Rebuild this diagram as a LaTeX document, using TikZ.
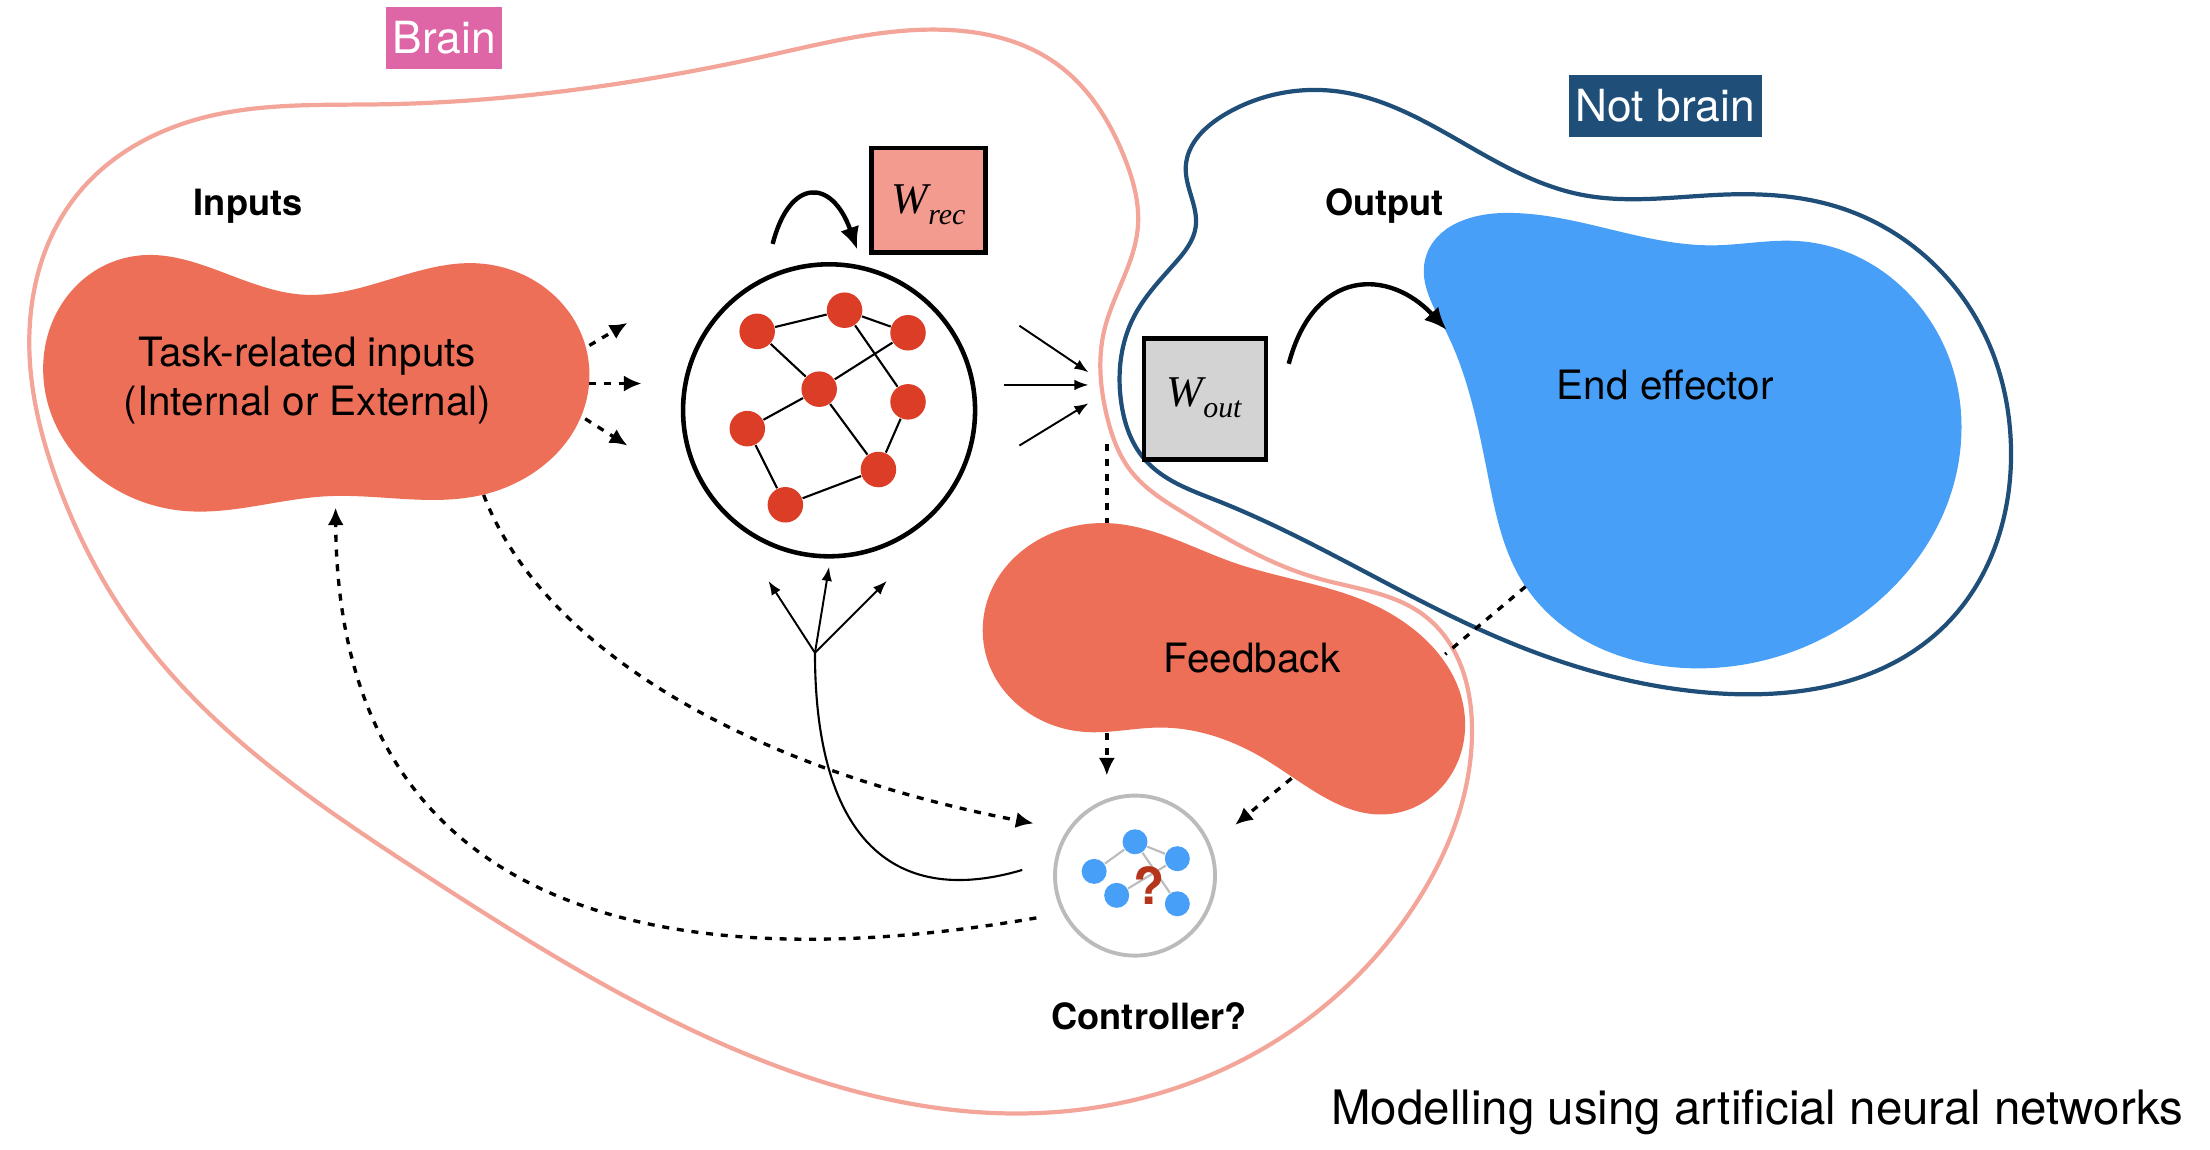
\documentclass[tikz,border=0pt]{standalone}
\usepackage{fontspec}
\setmainfont{TeX Gyre Heros}
\newfontfamily\wfont{Liberation Serif}
\usetikzlibrary{arrows.meta,hobby}
\definecolor{blobred}{HTML}{EE6F57}
\definecolor{blobblue}{HTML}{479FF8}
\definecolor{brainline}{HTML}{F4A59A}
\definecolor{notbrainline}{HTML}{1F4E79}
\definecolor{brainlabel}{HTML}{DF66A6}
\definecolor{wrecfill}{HTML}{F49B90}
\definecolor{woutfill}{HTML}{D3D3D3}
\definecolor{dotred}{HTML}{DC3D26}
\definecolor{qmark}{HTML}{B5341C}
\definecolor{ctrlgray}{HTML}{BBBBBB}
\newcommand{\wlabel}[2]{{\wfont\itshape\fontsize{12.5}{13}\selectfont #1\raisebox{-3.2pt}{\fontsize{8.5}{9}\selectfont #2}}}
\tikzset{
	bodytext/.style={font=\fontsize{11.5}{14}\selectfont,align=center,inner sep=0pt},
	boldtext/.style={font=\fontsize{10.3}{12}\selectfont\bfseries,inner sep=0pt},
	tagbox/.style={font=\fontsize{12.6}{14}\selectfont,text=white,minimum height=0.62cm,inner sep=0pt},
	weightbox/.style={draw=black,line width=1.3pt,inner sep=0pt},
	weighttext/.style={inner sep=0pt},
	netdot/.style={circle,fill=dotred,minimum size=0.355cm,inner sep=0pt},
	ctrldot/.style={circle,fill=blobblue,minimum size=0.25cm,inner sep=0pt},
	ctrledge/.style={ctrlgray,line width=0.6pt},
	netedge/.style={black,line width=0.6pt},
	thinarrow/.style={-{Latex[length=4pt,width=3pt]},line width=0.55pt},
	dasharrow/.style={-{Latex[length=5pt,width=4.6pt]},line width=0.95pt,dash pattern=on 2pt off 2.2pt},
	dashline/.style={line width=0.95pt,dash pattern=on 2pt off 2.2pt},
	curvearrow/.style={-{Latex[length=6.4pt,width=5.6pt]},line width=1.25pt}
}
\begin{document}
\begin{tikzpicture}[x=0.0141cm,y=-0.0141cm]
	\useasboundingbox (0,0) rectangle (1567.4,815.6);
	% outlines
	\draw [brainline,line width=1.2pt] plot [closed hobby] coordinates{(21,253) (54,139) (142,84) (270,74) (420,62) (542,40) (665,21) (749,45) (798,113) (807,161) (783,235) (785,295) (802,334) (840,364) (934,410) (1012,438) (1044,520) (1004,641) (910,735) (780,785) (697,789) (498,734) (299,619) (100,452) (40,340)};
	\draw [notbrainline,line width=1.2pt] plot [closed hobby] coordinates{(950,65) (1060,114) (1121,138) (1223,138) (1304,147) (1406,234) (1426,311) (1377,446) (1223,492) (1062,452) (863,355) (812,326) (795,284) (804,225) (833,187) (848,161) (841,118) (869,81)};
	% blobs
	\fill [blobred] plot [closed hobby] coordinates{(93,182) (215,209) (342,187) (418,263) (342,351) (231,352) (127,362) (31,253)};
	\fill [blobred] plot [closed hobby] coordinates{(785,371) (875,399) (970,427) (1039,518) (988,577) (898,539) (822,516) (768,519) (697,449)};
	\fill [blobblue] plot [closed hobby] coordinates{(1068,151) (1215,174) (1276,171) (1373,234) (1391,296) (1284,457) (1202,474) (1080,413) (1056,341) (1025,234) (1011,183)};
	% labels
	\node [tagbox,fill=brainlabel,minimum width=1.16cm] (brain) at (315,27) {Brain};
	\node [tagbox,fill=notbrainline,minimum width=1.93cm] (notbrain) at (1181,75) {Not brain};
	\node [boldtext] (inputs) at (176,146) {Inputs};
	\node [boldtext] (output) at (982,146) {Output};
	\node [boldtext] (controllerlabel) at (815,721) {Controller?};
	\node [bodytext] (task) at (218,270) {Task-related inputs\\(Internal or External)};
	\node [bodytext] (feedback) at (888,467) {Feedback};
	\node [bodytext] (effector) at (1181,273) {End effector};
	\node [bodytext,anchor=east,font=\fontsize{13.5}{16}\selectfont] (title) at (1549,789) {Modelling using artificial neural networks};
	% weight boxes
	\node [weightbox,fill=wrecfill,minimum width=1.135cm,minimum height=1.045cm] (wrec) at (658.5,142) {};
	\node [weighttext] (wreclabel) at (658.5,145) {\wlabel{W}{rec}};
	\node [weightbox,fill=woutfill,minimum width=1.22cm,minimum height=1.21cm] (wout) at (854.5,283) {};
	\node [weighttext] (woutlabel) at (854,282) {\wlabel{W}{out}};
	% network
	\node [circle,draw=black,line width=1.3pt,minimum size=2.92cm,inner sep=0pt] (net) at (588,291) {};
	\node [netdot] (n1) at (537,235) {};
	\node [netdot] (n2) at (599,220) {};
	\node [netdot] (n3) at (644,236) {};
	\node [netdot] (n4) at (581,276) {};
	\node [netdot] (n5) at (644,285) {};
	\node [netdot] (n6) at (530,304) {};
	\node [netdot] (n7) at (623,333) {};
	\node [netdot] (n8) at (557,358) {};
	\draw [netedge] (n1) -- (n2);
	\draw [netedge] (n2) -- (n3);
	\draw [netedge] (n1) -- (n4);
	\draw [netedge] (n2) -- (n5);
	\draw [netedge] (n3) -- (n4);
	\draw [netedge] (n4) -- (n6);
	\draw [netedge] (n4) -- (n7);
	\draw [netedge] (n5) -- (n7);
	\draw [netedge] (n6) -- (n8);
	\draw [netedge] (n8) -- (n7);
	% controller
	\node [circle,draw=ctrlgray,line width=1.1pt,minimum size=1.6cm,inner sep=0pt] (ctrl) at (805,621) {};
	\node [ctrldot] (c1) at (805,597) {};
	\node [ctrldot] (c2) at (835,609) {};
	\node [ctrldot] (c3) at (776,618) {};
	\node [ctrldot] (c4) at (792,635) {};
	\node [ctrldot] (c5) at (835,641) {};
	\draw [ctrledge] (c1) -- (c2);
	\draw [ctrledge] (c1) -- (c3);
	\draw [ctrledge] (c1) -- (c5);
	\draw [ctrledge] (c2) -- (c4);
	\node [text=qmark,inner sep=0pt,font=\fontsize{14.5}{14.5}\selectfont\bfseries] (quest) at (815,628) {?};
	% connector ends
	\coordinate (i1) at (418,245);
	\coordinate (i2) at (418,272);
	\coordinate (i3) at (415,297);
	\coordinate (ia) at (445,229);
	\coordinate (ib) at (455,272);
	\coordinate (ic) at (445,316);
	\coordinate (o1) at (723,231);
	\coordinate (o2) at (712,273);
	\coordinate (o3) at (723,316);
	\coordinate (oa) at (772,264);
	\coordinate (ob) at (772,273);
	\coordinate (oc) at (772,286);
	\coordinate (fan) at (578,463);
	\coordinate (fa) at (545,412);
	\coordinate (fb) at (588,402);
	\coordinate (fc) at (629,412);
	\coordinate (loopa) at (548,173);
	\coordinate (loopb) at (608,177);
	\coordinate (outa) at (914,258);
	\coordinate (outb) at (1026,234);
	\coordinate (ctrlout) at (725,617);
	\coordinate (ctrlback) at (735,651);
	\coordinate (inback) at (238,360);
	\coordinate (infrom) at (343,351);
	\coordinate (ctrlin) at (733,584);
	\coordinate (fbtop) at (785,315);
	\coordinate (fbup) at (785,371);
	\coordinate (fbdown) at (785,520);
	\coordinate (ctrltop) at (785,550);
	\coordinate (effa) at (1082,416);
	\coordinate (effb) at (1025,464);
	\coordinate (fbside) at (916,552);
	\coordinate (ctrlside) at (876,585);
	% arrows
	\draw [dasharrow] (i1) -- (ia);
	\draw [dasharrow] (i2) -- (ib);
	\draw [dasharrow] (i3) -- (ic);
	\draw [thinarrow] (o1) -- (oa);
	\draw [thinarrow] (o2) -- (ob);
	\draw [thinarrow] (o3) -- (oc);
	\draw [thinarrow] (fan) -- (fa);
	\draw [thinarrow] (fan) -- (fb);
	\draw [thinarrow] (fan) -- (fc);
	\draw [line width=0.6pt] (ctrlout) .. controls (630,645) and (578,590) .. (fan);
	\draw [curvearrow] (loopa) .. controls (560,126) and (590,126) .. (loopb);
	\draw [curvearrow] (outa) .. controls (932,190) and (985,190) .. (outb);
	\draw [dasharrow] (infrom) .. controls (385,460) and (530,545) .. (ctrlin);
	\draw [dasharrow] (ctrlback) .. controls (510,690) and (240,672) .. (inback);
	\draw [dashline] (fbtop) -- (fbup);
	\draw [dasharrow] (fbdown) -- (ctrltop);
	\draw [dashline] (effa) -- (effb);
	\draw [dasharrow] (fbside) -- (ctrlside);
\end{tikzpicture}
\end{document}
